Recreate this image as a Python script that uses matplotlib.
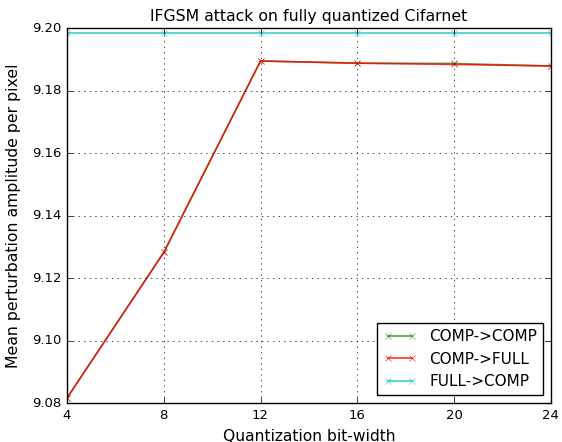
import matplotlib
matplotlib.use("Agg")
import matplotlib.pyplot as plt

plt.style.use("classic")

bits = [4, 8, 12, 16, 20, 24]
comp_comp = [9.0816, 9.1282, 9.1895, 9.1888, 9.1887, 9.1879]
comp_full = [9.0816, 9.1282, 9.1895, 9.1888, 9.1884, 9.1879]
full_comp = [9.1984, 9.1984, 9.1984, 9.1984, 9.1984, 9.1984]

fig = plt.figure(figsize=(5.62, 4.42), dpi=100, facecolor="white")
ax = fig.add_axes([0.1192, 0.0882, 0.861, 0.848])

ax.plot(bits, comp_comp, color="g", marker="x", ms=4, lw=1.2, alpha=0.7, label="COMP->COMP")
ax.plot(bits, comp_full, color="r", marker="x", ms=4, lw=1.2, alpha=0.8, label="COMP->FULL")
ax.plot(bits, full_comp, color="c", marker="x", ms=4, lw=1.3, alpha=0.7, label="FULL->COMP")

ax.set_xlim(4, 24)
ax.set_ylim(9.08, 9.20)
ax.set_xticks(bits)
ax.tick_params(labelsize=9.5)
ax.set_title("IFGSM attack on fully quantized Cifarnet", fontsize=11.3)
ax.set_xlabel("Quantization bit-width", fontsize=11.2, labelpad=5)
ax.set_ylabel("Mean perturbation amplitude per pixel", fontsize=11.3, labelpad=8)
ax.grid(True)
ax.legend(loc="lower right", fontsize=11, handlelength=2.2)

fig.savefig("out.png", dpi=100, facecolor="white")
